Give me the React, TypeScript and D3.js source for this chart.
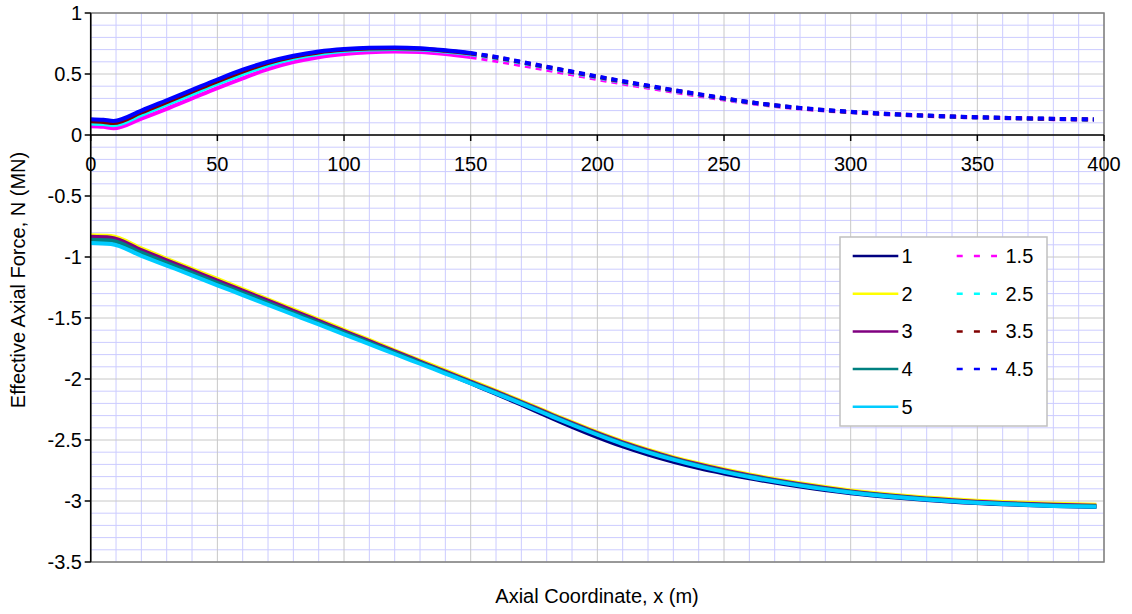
import React from "react";
import * as d3 from "d3";

// Axial coordinate stations (m)
const xTop = [0, 5, 9, 20, 30, 40, 50, 60, 70, 80, 90, 100, 110, 120, 130, 140, 150, 160, 170, 180, 190, 200, 220, 240, 260, 280, 300, 320, 340, 360, 380, 396];
const xBottom = [0, 8, 20, 30, 40, 50, 60, 70, 80, 90, 100, 110, 120, 130, 140, 150, 160, 170, 180, 190, 200, 210, 220, 230, 240, 250, 260, 280, 300, 320, 340, 360, 380, 397];

// Effective axial force (MN), half-integer cases (tension side)
const s1_5 = [0.072, 0.067, 0.055, 0.135, 0.215, 0.3, 0.385, 0.465, 0.54, 0.597, 0.638, 0.664, 0.679, 0.684, 0.68, 0.664, 0.64, 0.608, 0.572, 0.535, 0.497, 0.458, 0.388, 0.322, 0.262, 0.217, 0.186, 0.164, 0.149, 0.138, 0.13, 0.126];
const s2_5 = [0.095, 0.09, 0.08, 0.165, 0.25, 0.335, 0.42, 0.5, 0.572, 0.627, 0.664, 0.688, 0.7, 0.704, 0.7, 0.684, 0.662, 0.63, 0.592, 0.552, 0.512, 0.472, 0.398, 0.33, 0.267, 0.22, 0.188, 0.166, 0.15, 0.139, 0.131, 0.127];
const s3_5 = [0.112, 0.107, 0.098, 0.185, 0.27, 0.355, 0.44, 0.52, 0.59, 0.642, 0.677, 0.698, 0.709, 0.712, 0.707, 0.69, 0.668, 0.636, 0.597, 0.557, 0.517, 0.477, 0.402, 0.333, 0.269, 0.221, 0.189, 0.167, 0.151, 0.14, 0.132, 0.127];
const s4_5 = [0.13, 0.125, 0.115, 0.2, 0.285, 0.37, 0.455, 0.535, 0.6, 0.65, 0.685, 0.705, 0.715, 0.717, 0.712, 0.695, 0.672, 0.64, 0.6, 0.56, 0.52, 0.48, 0.405, 0.335, 0.27, 0.222, 0.19, 0.168, 0.152, 0.141, 0.133, 0.128];

// Effective axial force (MN), integer cases (compression side)
const s1 = [-0.828, -0.835, -0.937, -1.021, -1.105, -1.188, -1.272, -1.356, -1.44, -1.524, -1.608, -1.693, -1.778, -1.863, -1.948, -2.035, -2.122, -2.211, -2.302, -2.392, -2.476, -2.553, -2.62, -2.679, -2.73, -2.774, -2.814, -2.882, -2.937, -2.976, -3.006, -3.027, -3.041, -3.05];
const s2 = [-0.822, -0.828, -0.93, -1.015, -1.098, -1.18, -1.263, -1.347, -1.43, -1.513, -1.597, -1.68, -1.765, -1.848, -1.93, -2.013, -2.096, -2.181, -2.268, -2.354, -2.436, -2.512, -2.58, -2.64, -2.693, -2.74, -2.782, -2.855, -2.913, -2.955, -2.986, -3.008, -3.022, -3.03];
const s3 = [-0.835, -0.842, -0.943, -1.027, -1.11, -1.193, -1.275, -1.358, -1.441, -1.524, -1.607, -1.69, -1.774, -1.857, -1.94, -2.022, -2.104, -2.189, -2.276, -2.362, -2.444, -2.52, -2.588, -2.648, -2.701, -2.748, -2.79, -2.863, -2.921, -2.963, -2.994, -3.016, -3.031, -3.039];
const s4 = [-0.858, -0.865, -0.965, -1.048, -1.13, -1.212, -1.293, -1.375, -1.457, -1.538, -1.62, -1.702, -1.784, -1.866, -1.948, -2.029, -2.111, -2.196, -2.283, -2.369, -2.451, -2.527, -2.595, -2.655, -2.708, -2.755, -2.797, -2.869, -2.927, -2.968, -2.999, -3.021, -3.036, -3.044];
const s5 = [-0.885, -0.893, -0.99, -1.07, -1.15, -1.232, -1.312, -1.393, -1.473, -1.553, -1.634, -1.714, -1.795, -1.875, -1.955, -2.035, -2.117, -2.202, -2.289, -2.375, -2.457, -2.533, -2.601, -2.661, -2.714, -2.761, -2.803, -2.874, -2.931, -2.972, -3.003, -3.025, -3.04, -3.048];

const xTicks = [0, 50, 100, 150, 200, 250, 300, 350, 400];
const yTicks = [1, 0.5, 0, -0.5, -1, -1.5, -2, -2.5, -3, -3.5];

type Series = { name: string; color: string; dashed: boolean; xs: number[]; ys: number[] };

// Series in plotting order (also the legend's row-wise order)
const series: Series[] = [
  { name: "1", color: "#000080", dashed: false, xs: xBottom, ys: s1 },
  { name: "1.5", color: "#FF00FF", dashed: true, xs: xTop, ys: s1_5 },
  { name: "2", color: "#FFFF00", dashed: false, xs: xBottom, ys: s2 },
  { name: "2.5", color: "#00FFFF", dashed: true, xs: xTop, ys: s2_5 },
  { name: "3", color: "#800080", dashed: false, xs: xBottom, ys: s3 },
  { name: "3.5", color: "#800000", dashed: true, xs: xTop, ys: s3_5 },
  { name: "4", color: "#008080", dashed: false, xs: xBottom, ys: s4 },
  { name: "4.5", color: "#0000FF", dashed: true, xs: xTop, ys: s4_5 },
  { name: "5", color: "#00CCFF", dashed: false, xs: xBottom, ys: s5 },
];

const W = 1132;
const H = 614;
const left = 90.7;
const right = 1104;
const top = 13;
const bottom = 562;
const FONT = "'Liberation Sans', Arial, sans-serif";

export default function App() {
  const x = d3.scaleLinear().domain([0, 400]).range([left, right]);
  const y = d3.scaleLinear().domain([-3.5, 1]).range([bottom, top]);

  const line = d3
    .line<[number, number]>()
    .x((d) => x(d[0]))
    .y((d) => y(d[1]))
    .curve(d3.curveMonotoneX);

  const minorX = d3.range(10, 400, 10).filter((v) => v % 50 !== 0);
  const minorY = d3.range(-34, 10, 1).map((v) => v / 10).filter((v) => Math.abs((v * 10) % 5) > 1e-6);

  const legendLeft = 840;
  const legendTop = 237;
  const rowGap = 37.7;
  const colOne = series.filter((s) => !s.dashed);
  const colTwo = series.filter((s) => s.dashed);

  return (
    <svg
      width={W}
      height={H}
      style={{ position: "absolute", left: 0, top: 0, background: "#fff" }}
      fontFamily={FONT}
    >
      <rect x={0} y={0} width={W} height={H} fill="#fff" />
      <rect x={left} y={top} width={right - left} height={bottom - top} fill="#fff" />

      {/* minor gridlines */}
      {minorX.map((v) => (
        <line key={"mx" + v} x1={x(v)} x2={x(v)} y1={top} y2={bottom} stroke="#CCCCFF" strokeWidth={1} />
      ))}
      {minorY.map((v) => (
        <line key={"my" + v} x1={left} x2={right} y1={y(v)} y2={y(v)} stroke="#CCCCFF" strokeWidth={1} />
      ))}
      {/* major gridlines */}
      {xTicks.map((v) => (
        <line key={"gx" + v} x1={x(v)} x2={x(v)} y1={top} y2={bottom} stroke="#C8C8C8" strokeWidth={1} />
      ))}
      {yTicks.map((v) => (
        <line key={"gy" + v} x1={left} x2={right} y1={y(v)} y2={y(v)} stroke="#C8C8C8" strokeWidth={1} />
      ))}
      {/* plot frame */}
      <rect x={left} y={top} width={right - left} height={bottom - top} fill="none" stroke="#808080" strokeWidth={1.5} />

      {/* series */}
      {series.map((s) => {
        const pts: [number, number][] = s.xs.map((xv, i) => [xv, s.ys[i]]);
        if (!s.dashed) {
          return (
            <path key={s.name} d={line(pts) || ""} fill="none" stroke={s.color} strokeWidth={4} strokeLinejoin="round" />
          );
        }
        const head = pts.filter((p) => p[0] <= 150);
        const tail = pts.filter((p) => p[0] >= 150);
        return (
          <g key={s.name}>
            <path d={line(head) || ""} fill="none" stroke={s.color} strokeWidth={4} strokeLinejoin="round" />
            <path d={line(tail) || ""} fill="none" stroke={s.color} strokeWidth={4} strokeDasharray="6,5" />
          </g>
        );
      })}

      {/* axes */}
      <line x1={left} x2={left} y1={top} y2={bottom} stroke="#000" strokeWidth={1.5} />
      <line x1={left} x2={right} y1={y(0)} y2={y(0)} stroke="#000" strokeWidth={1.5} />
      {yTicks.map((v) => (
        <g key={"yt" + v}>
          <line x1={left - 6} x2={left} y1={y(v)} y2={y(v)} stroke="#000" strokeWidth={1.5} />
          <text x={82} y={y(v) + 7} textAnchor="end" fontSize={20} fill="#000">
            {String(v)}
          </text>
        </g>
      ))}
      {xTicks.map((v) => (
        <g key={"xt" + v}>
          <line x1={x(v)} x2={x(v)} y1={y(0)} y2={y(0) + 6} stroke="#000" strokeWidth={1.5} />
          <text x={x(v)} y={171} textAnchor="middle" fontSize={20} fill="#000">
            {String(v)}
          </text>
        </g>
      ))}

      {/* axis titles */}
      <text x={597} y={603} textAnchor="middle" fontSize={20} fill="#000">
        Axial Coordinate, x (m)
      </text>
      <text transform="translate(25,280) rotate(-90)" textAnchor="middle" fontSize={20} fill="#000">
        Effective Axial Force, N (MN)
      </text>

      {/* legend */}
      <rect x={legendLeft} y={legendTop} width={207} height={189} fill="#fff" stroke="#C0C0C0" strokeWidth={1.5} />
      {colOne.map((s, i) => {
        const cy = 256 + i * rowGap;
        return (
          <g key={"l1" + s.name}>
            <line x1={852.7} x2={898.3} y1={cy} y2={cy} stroke={s.color} strokeWidth={2.5} />
            <text x={901.5} y={cy + 7} fontSize={20} fill="#000">
              {s.name}
            </text>
          </g>
        );
      })}
      {colTwo.map((s, i) => {
        const cy = 256 + i * rowGap;
        return (
          <g key={"l2" + s.name}>
            <line x1={956.7} x2={997} y1={cy} y2={cy} stroke={s.color} strokeWidth={2.5} strokeDasharray="6,11.2" />
            <text x={1005.5} y={cy + 7} fontSize={20} fill="#000">
              {s.name}
            </text>
          </g>
        );
      })}
    </svg>
  );
}
